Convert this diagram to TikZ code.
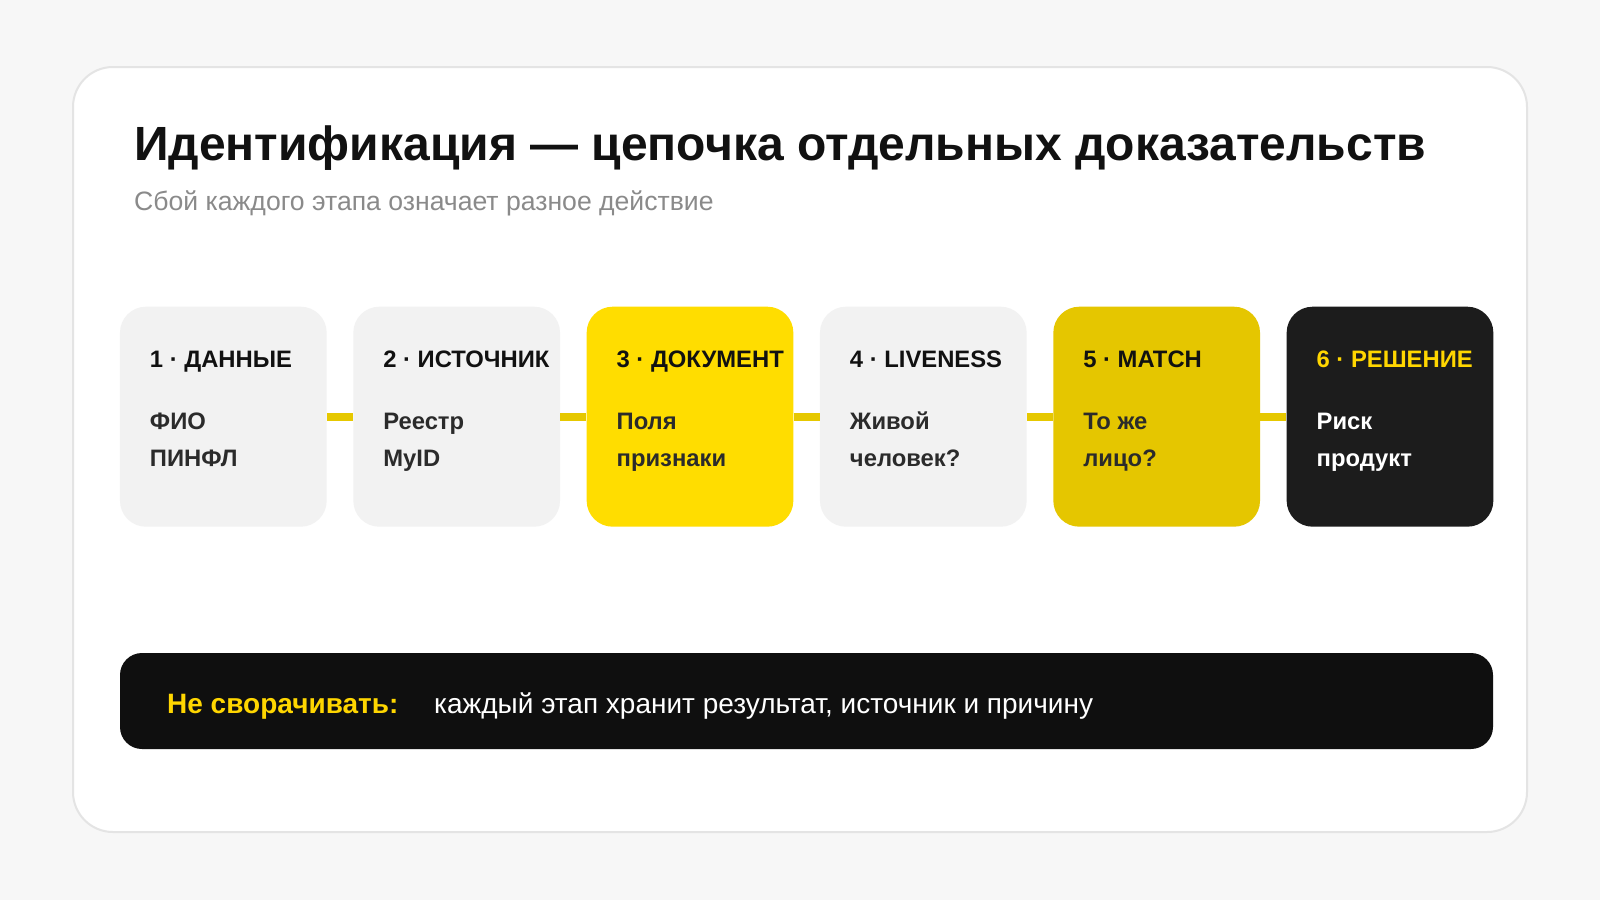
\documentclass[tikz,border=0pt]{standalone}
\usepackage{fontspec}
\setmainfont{Liberation Sans}
\definecolor{pagebg}{HTML}{F7F7F7}
\definecolor{cardline}{HTML}{E4E4E4}
\definecolor{boxgray}{HTML}{F2F2F2}
\definecolor{boxyellow}{HTML}{FFDD00}
\definecolor{boxgold}{HTML}{E5C600}
\definecolor{boxblack}{HTML}{1C1C1C}
\definecolor{barblack}{HTML}{0F0F0F}
\definecolor{connyellow}{HTML}{E6C800}
\definecolor{headtext}{HTML}{111111}
\definecolor{bodytext}{HTML}{2B2B2B}
\definecolor{subgray}{HTML}{8A8A8A}
\definecolor{accent}{HTML}{FFD600}
\tikzset{
  stagebox/.style={rectangle, rounded corners=26pt, minimum width=206.7pt, minimum height=220pt, inner sep=0pt, draw=none},
  headlbl/.style={anchor=base west, inner sep=0pt, font=\fontsize{23.8}{28}\selectfont\bfseries, text=headtext},
  bodylbl/.style={anchor=base west, inner sep=0pt, font=\fontsize{23.8}{28}\selectfont\bfseries, text=bodytext},
  conn/.style={draw=connyellow, line width=8pt},
}
\begin{document}
\begin{tikzpicture}[x=1pt,y=-1pt]
\useasboundingbox (0,0) rectangle (1600,900);
\fill[pagebg] (0,0) rectangle (1600,900);
\filldraw[fill=white, draw=cardline, line width=2pt, rounded corners=40pt] (73,67) rectangle (1527,832);
\node[anchor=base west, inner sep=0pt, font=\fontsize{48}{57}\selectfont\bfseries, text=headtext] (title) at (134,160) {Идентификация — цепочка отдельных доказательств};
\node[anchor=base west, inner sep=0pt, font=\fontsize{26.6}{31}\selectfont, text=subgray] (subtitle) at (134,210) {Сбой каждого этапа означает разное действие};
% stage boxes
\node[stagebox, fill=boxgray] (b1) at (223.33,416.7) {};
\node[stagebox, fill=boxgray] (b2) at (456.67,416.7) {};
\node[stagebox, fill=boxyellow] (b3) at (690.00,416.7) {};
\node[stagebox, fill=boxgray] (b4) at (923.33,416.7) {};
\node[stagebox, fill=boxgold] (b5) at (1156.67,416.7) {};
\node[stagebox, fill=boxblack] (b6) at (1390.00,416.7) {};
% connectors
\draw[conn] (b1.east) -- (b2.west);
\draw[conn] (b2.east) -- (b3.west);
\draw[conn] (b3.east) -- (b4.west);
\draw[conn] (b4.east) -- (b5.west);
\draw[conn] (b5.east) -- (b6.west);
% texts
\node[headlbl] (h1) at ([xshift=30pt,yshift=49.4pt]b1.west) {1 · ДАННЫЕ};
\node[bodylbl] (t1a) at ([xshift=30pt,yshift=-12.3pt]b1.west) {ФИО};
\node[bodylbl] (t1b) at ([xshift=30pt,yshift=-50pt]b1.west) {ПИНФЛ};
\node[headlbl] (h2) at ([xshift=30pt,yshift=49.4pt]b2.west) {2 · ИСТОЧНИК};
\node[bodylbl] (t2a) at ([xshift=30pt,yshift=-12.3pt]b2.west) {Реестр};
\node[bodylbl] (t2b) at ([xshift=30pt,yshift=-50pt]b2.west) {MyID};
\node[headlbl] (h3) at ([xshift=30pt,yshift=49.4pt]b3.west) {3 · ДОКУМЕНТ};
\node[bodylbl] (t3a) at ([xshift=30pt,yshift=-12.3pt]b3.west) {Поля};
\node[bodylbl] (t3b) at ([xshift=30pt,yshift=-50pt]b3.west) {признаки};
\node[headlbl] (h4) at ([xshift=30pt,yshift=49.4pt]b4.west) {4 · LIVENESS};
\node[bodylbl] (t4a) at ([xshift=30pt,yshift=-12.3pt]b4.west) {Живой};
\node[bodylbl] (t4b) at ([xshift=30pt,yshift=-50pt]b4.west) {человек?};
\node[headlbl] (h5) at ([xshift=30pt,yshift=49.4pt]b5.west) {5 · MATCH};
\node[bodylbl] (t5a) at ([xshift=30pt,yshift=-12.3pt]b5.west) {То же};
\node[bodylbl] (t5b) at ([xshift=30pt,yshift=-50pt]b5.west) {лицо?};
\node[headlbl, text=accent] (h6) at ([xshift=30pt,yshift=49.4pt]b6.west) {6 · РЕШЕНИЕ};
\node[bodylbl, text=white] (t6a) at ([xshift=30pt,yshift=-12.3pt]b6.west) {Риск};
\node[bodylbl, text=white] (t6b) at ([xshift=30pt,yshift=-50pt]b6.west) {продукт};
% bottom bar
\node[rectangle, rounded corners=22pt, fill=barblack, minimum width=1373pt, minimum height=96pt, inner sep=0pt] (bar) at (806.5,701) {};
\node[anchor=base west, inner sep=0pt, font=\fontsize{28}{33}\selectfont\bfseries, text=accent] (barkey) at (167,713) {Не сворачивать:};
\node[anchor=base west, inner sep=0pt, font=\fontsize{28}{33}\selectfont, text=white] (bartext) at (434,713) {каждый этап хранит результат, источник и причину};
\end{tikzpicture}
\end{document}
